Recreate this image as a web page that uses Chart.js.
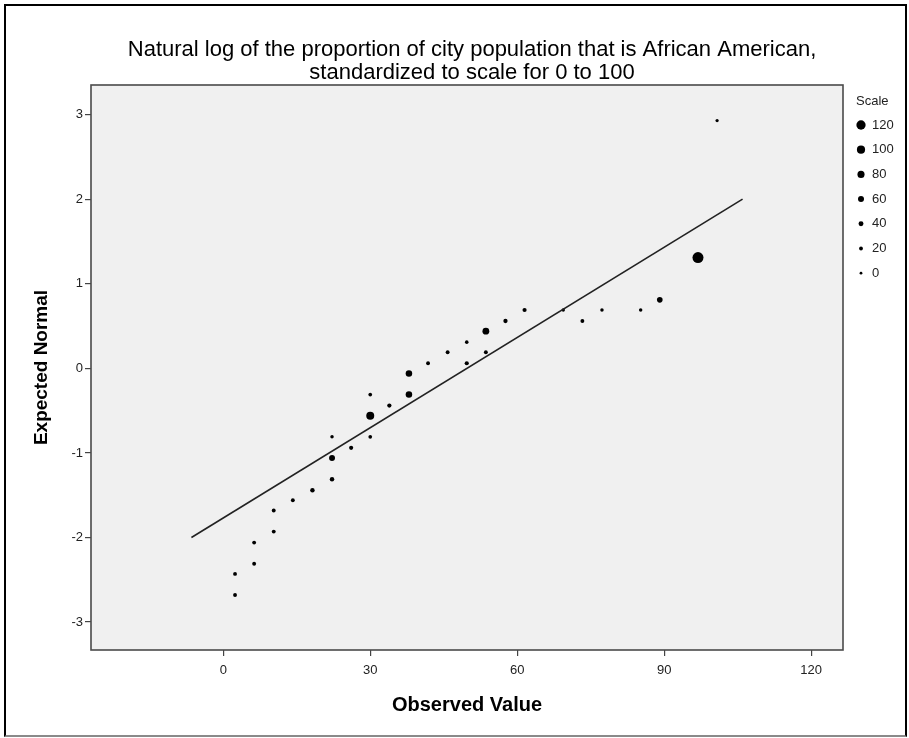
<!DOCTYPE html>
<html>
<head>
<meta charset="utf-8">
<script src="https://cdn.jsdelivr.net/npm/chart.js@4.4.1/dist/chart.umd.min.js"></script>
<style>
html, body { margin: 0; padding: 0; background: #fff; }
#wrap { position: relative; width: 909px; height: 738px; }
#frame { position: absolute; left: 4px; top: 4px; width: 899px; height: 729px;
  border-left: 2px solid #000; border-top: 2px solid #000; border-right: 2px solid #000;
  border-bottom: 2px solid #8a8a8a; pointer-events: none; }
</style>
</head>
<body>
<div id="wrap"><canvas id="myChart" width="909" height="738"></canvas><div id="frame"></div></div>
<script>
// observed value, expected normal and point size (Scale) for each case
var observed = [2.4, 2.4, 6.3, 6.3, 10.3, 10.3, 14.2, 18.2, 22.2, 22.2, 26.1, 22.2, 30, 30, 30, 33.9, 37.9, 37.9,
  41.8, 45.8, 49.7, 49.7, 53.6, 53.6, 57.6, 61.5, 69.4, 73.3, 77.3, 85.2, 89.1, 96.9, 100.8];
var expected = [-2.68, -2.43, -2.31, -2.06, -1.93, -1.68, -1.56, -1.44, -1.31, -1.06, -0.94, -0.81, -0.81, -0.56, -0.31, -0.44, -0.31, -0.06,
  0.06, 0.19, 0.06, 0.31, 0.19, 0.44, 0.56, 0.69, 0.69, 0.56, 0.69, 0.69, 0.81, 1.31, 2.93];
var scaleVals = [15, 15, 15, 15, 15, 15, 15, 25, 25, 50, 20, 8, 12, 85, 12, 22, 60, 60,
  15, 15, 20, 10, 15, 65, 22, 20, 6, 15, 8, 8, 45, 136, 4];

// reference line
var lineX = [-6.5, 106];
var lineY = [-2, 2];

var xTicks = [0, 30, 60, 90, 120];
var yTicks = [-3, -2, -1, 0, 1, 2, 3];
var legendVals = [120, 100, 80, 60, 40, 20, 0];
var titleLines = ['Natural log of the proportion of city population that is African American,',
                  'standardized to scale for 0 to 100'];

function radius(s) { return 1.5 + s / 34; }

var points = observed.map((x, i) => ({ x: x, y: expected[i] }));
var linePts = lineX.map((x, i) => ({ x: x, y: lineY[i] }));

var fam = '"Liberation Sans", Arial, sans-serif';

var plotBox = {
  id: 'plotBox',
  beforeDraw(chart) {
    var a = chart.chartArea, ctx = chart.ctx;
    ctx.save();
    ctx.fillStyle = '#f0f0f0';
    ctx.fillRect(a.left, a.top, a.right - a.left, a.bottom - a.top);
    ctx.restore();
  },
  afterDraw(chart) {
    var a = chart.chartArea, ctx = chart.ctx;
    ctx.save();
    ctx.strokeStyle = '#4a4a4a';
    ctx.lineWidth = 1.6;
    ctx.strokeRect(a.left, a.top, a.right - a.left, a.bottom - a.top);
    // title, centred over the plot box
    ctx.fillStyle = '#000';
    ctx.font = '22px ' + fam;
    ctx.textAlign = 'center';
    ctx.textBaseline = 'middle';
    titleLines.forEach((t, i) => ctx.fillText(t, 472, 50 + i * 23));
    // size legend
    ctx.textAlign = 'left';
    ctx.fillStyle = '#222';
    ctx.font = '13px ' + fam;
    ctx.fillText('Scale', 856, 101);
    legendVals.forEach((v, i) => {
      var y = 125 + i * 24.7;
      ctx.beginPath();
      ctx.arc(861, y, radius(v) * 0.92, 0, Math.PI * 2);
      ctx.fillStyle = '#000';
      ctx.fill();
      ctx.fillStyle = '#222';
      ctx.fillText(String(v), 872, y);
    });
    ctx.restore();
  }
};

var tickFont = { family: fam, size: 13 };

var ctx = document.getElementById('myChart').getContext('2d');
var chart = new Chart(ctx, {
  type: 'scatter',
  data: {
    datasets: [{
      type: 'line',
      data: linePts,
      borderColor: '#222',
      borderWidth: 1.6,
      pointRadius: 0,
      fill: false
    }, {
      data: points,
      backgroundColor: '#000',
      borderWidth: 0,
      pointRadius: c => radius(scaleVals[c.dataIndex]),
      pointHoverRadius: c => radius(scaleVals[c.dataIndex])
    }]
  },
  options: {
    responsive: false,
    animation: false,
    layout: { padding: { left: 0, right: 66, top: 85, bottom: 0 } },
    plugins: {
      legend: { display: false },
      tooltip: { enabled: false },
      title: { display: false }
    },
    scales: {
      x: {
        type: 'linear',
        min: -27,
        max: 126.5,
        afterFit: s => { s.height = 88; },
        afterBuildTicks: s => { s.ticks = xTicks.map(v => ({ value: v })); },
        border: { display: false },
        grid: { drawOnChartArea: false, drawTicks: true, tickLength: 6, color: '#444', lineWidth: 1.2 },
        ticks: { color: '#222', font: tickFont, padding: 7, maxRotation: 0 },
        title: {
          display: true,
          text: 'Observed Value',
          color: '#000',
          font: { family: fam, size: 20, weight: 'bold' },
          padding: { top: 0, bottom: 21 }
        }
      },
      y: {
        type: 'linear',
        min: -3.33,
        max: 3.35,
        afterFit: s => { s.width = 91; },
        afterBuildTicks: s => { s.ticks = yTicks.map(v => ({ value: v })); },
        border: { display: false },
        grid: { drawOnChartArea: false, drawTicks: true, tickLength: 6, color: '#444', lineWidth: 1.2 },
        ticks: { color: '#222', font: tickFont, padding: 2 },
        title: {
          display: true,
          text: 'Expected Normal',
          color: '#000',
          font: { family: fam, size: 19, weight: 'bold' },
          padding: { top: 30, bottom: 0 }
        }
      }
    }
  },
  plugins: [plotBox]
});
</script>
</body>
</html>
